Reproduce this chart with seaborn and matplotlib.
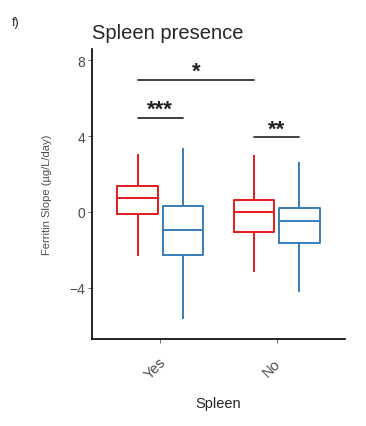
import numpy as np
import pandas as pd
import seaborn as sns
import matplotlib.pyplot as plt
import matplotlib.transforms as mtransforms

# five-number summaries (min, Q1, median, Q3, max)
spleen = ["Yes", "No"]
groups = ["A", "B"]
red_yes = [-2.3, -0.1, 0.76, 1.38, 3.07]
blue_yes = [-5.66, -2.28, -0.97, 0.33, 3.37]
red_no = [-3.19, -1.07, -0.02, 0.65, 2.98]
blue_no = [-4.25, -1.64, -0.46, 0.23, 2.63]

rows = []
for sp, grp, vals in [("Yes", "A", red_yes), ("Yes", "B", blue_yes),
                      ("No", "A", red_no), ("No", "B", blue_no)]:
    for v in vals:
        rows.append({"Spleen": sp, "Group": grp, "Slope": v})
df = pd.DataFrame(rows)

sns.set_style("white")
plt.rcParams["font.family"] = ["Liberation Sans", "DejaVu Sans"]

fig = plt.figure(figsize=(3.66, 4.27), dpi=100)
ax = fig.add_axes([0.251, 0.204, 0.692, 0.679])

pal = {"A": "#E41A1C", "B": "#377EB8"}
sns.boxplot(data=df, x="Spleen", y="Slope", hue="Group", order=spleen,
            hue_order=groups, palette=pal, fill=False, whis=np.inf,
            width=0.78, gap=0.1, linewidth=1.4, showcaps=False,
            legend=False, ax=ax)

ax.set_ylim(-6.7, 8.6)
ax.set_xlim(-0.59, 1.59)
ax.set_yticks([-4, 0, 4, 8])
ax.set_yticklabels(["\u22124", "0", "4", "8"])

for s in ["top", "right"]:
    ax.spines[s].set_visible(False)
for s in ["left", "bottom"]:
    ax.spines[s].set_color("black")
    ax.spines[s].set_linewidth(1.2)

ax.tick_params(axis="both", which="both", length=3, width=0.6,
               color="#555555", labelcolor="#4D4D4D", labelsize=10,
               left=True, bottom=True, pad=2)
ax.tick_params(axis="x", pad=17.5, labelsize=10.5)
shift = mtransforms.ScaledTranslation(-5 / 100, 0, fig.dpi_scale_trans)
for lab in ax.get_xticklabels():
    lab.set_rotation(45)
    lab.set_ha("center")
    lab.set_va("center")
    lab.set_rotation_mode("anchor")
    lab.set_transform(lab.get_transform() + shift)

ax.set_xlabel("Spleen", fontsize=10.5, labelpad=11)
ax.set_ylabel("Ferritin Slope (\u00b5g/L/day)", fontsize=8,
              color="#4D4D4D", labelpad=12)
ax.set_title("Spleen presence", fontsize=14.5, loc="left", pad=8, x=0.0)
fig.text(0.033, 0.94, "f)", fontsize=9)

# significance brackets: (x start, x end, height, label)
off = 0.195
brackets = [(0 - off, 1 - off, 6.98, "*"),
            (0 - off, 0 + off, 4.96, "***"),
            (1 - off, 1 + off, 3.95, "**")]
for x0, x1, yv, lab in brackets:
    ax.plot([x0, x1], [yv, yv], color="#333333", lw=1.3)
    ax.text((x0 + x1) / 2, yv + 0.15, lab, ha="center", va="baseline",
            fontsize=16, fontweight="bold", color="#222222")

fig.savefig("out.png", dpi=100)
